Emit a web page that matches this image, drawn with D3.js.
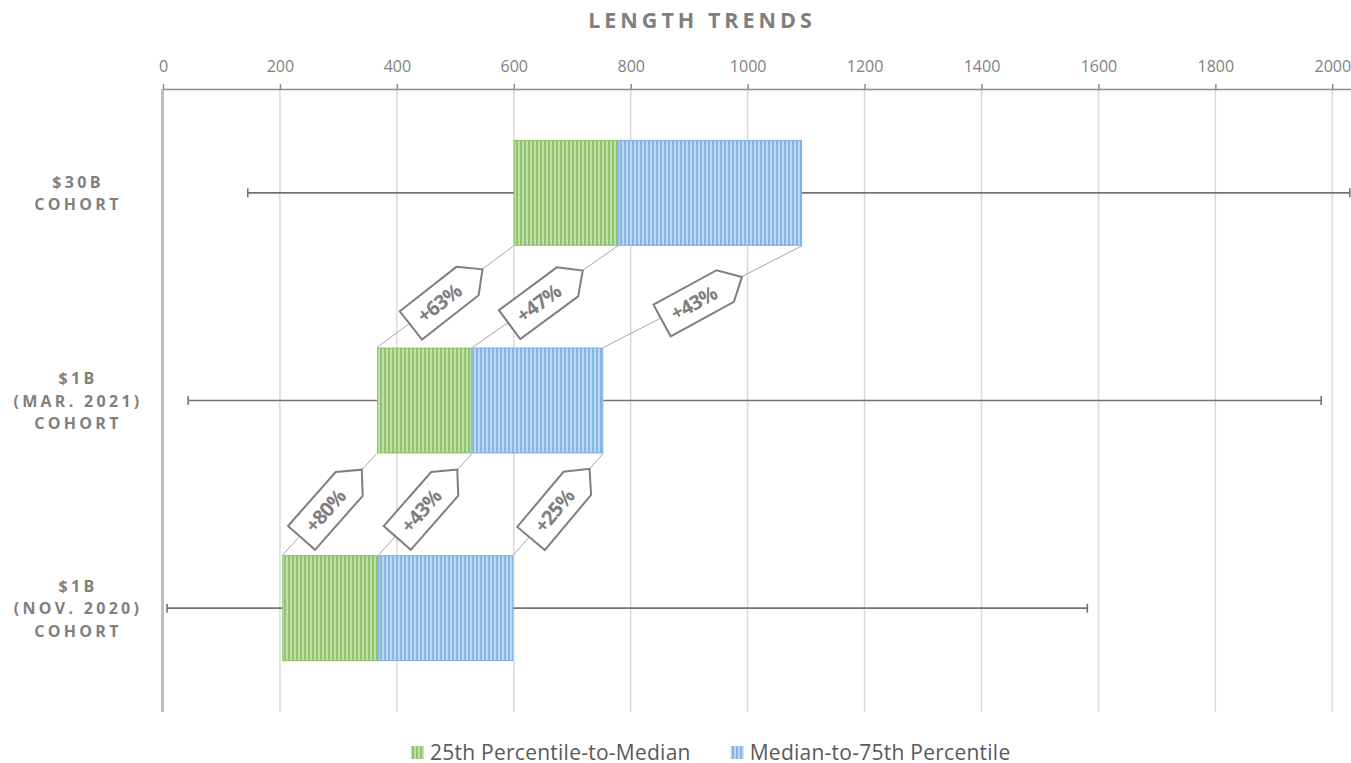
<!DOCTYPE html>
<meta charset="utf-8">
<title>length trends</title>
<style>
body {
  margin: 0px;
  background: #fff;
}
text {
  font-family: "Open Sans", sans-serif;
}
.title {
  font-size: 21.5px;
  font-weight: 700;
  letter-spacing: 4px;
  fill: #7f7f7f;
}
.rowlabel {
  font-size: 16px;
  font-weight: 700;
  letter-spacing: 3.3px;
  fill: #7f7f7f;
}
.axis text {
  font-size: 16px;
  fill: #7f7f7f;
}
.axis path, .axis line {
  stroke: #8c8c8c;
  stroke-width: 1.5;
}
.grid {
  stroke: #d9d9d9;
  stroke-width: 1.5;
}
.whisker {
  stroke: #737373;
  stroke-width: 1.6;
}
.connector {
  stroke: #a6a6a6;
  stroke-width: 1;
}
.tag path {
  fill: #fff;
  stroke: #7f7f7f;
  stroke-width: 2;
}
.tag text {
  font-size: 20px;
  font-weight: 700;
  fill: #7f7f7f;
  letter-spacing: -0.8px;
}
.legend text {
  font-size: 21px;
  letter-spacing: 0.25px;
  fill: #595959;
}
</style>

<script src="https://cdnjs.cloudflare.com/ajax/libs/d3/7.8.5/d3.min.js"></script>

<body>
<script>
var width = 1351, height = 763;

// rows, top to bottom
var cohorts = [["$30B", "COHORT"], ["$1B", "(MAR. 2021)", "COHORT"], ["$1B", "(NOV. 2020)", "COHORT"]];
var mins    = [145, 43, 7];
var q1s     = [600, 366, 204];
var medians = [778, 529, 368];
var q3s     = [1093, 753, 599];
var maxs    = [2030, 1981, 1581];
// growth labels between row i+1 (lower) and row i (upper): q1, median, q3
var growth  = [["+63%", "+47%", "+43%"], ["+80%", "+43%", "+25%"]];
var xTicks  = [0, 200, 400, 600, 800, 1000, 1200, 1400, 1600, 1800, 2000];
var seriesNames = ["25th Percentile-to-Median", "Median-to-75th Percentile"];

var rows = cohorts.map(function(c, i) {
  return {label: c, min: mins[i], q1: q1s[i], med: medians[i], q3: q3s[i], max: maxs[i]};
});

var plotTop = 89, plotBottom = 712, plotLeft = 163;

var x = d3.scaleLinear().domain([0, 2032]).range([plotLeft, width]);
var y = d3.scaleBand().domain(d3.range(rows.length)).range([plotTop, plotBottom])
    .paddingInner(0.49).paddingOuter(0.245);

var svg = d3.select("body").append("svg")
    .attr("width", width)
    .attr("height", height);

var defs = svg.append("defs");
function stripes(id, light, dark) {
  var p = defs.append("pattern").attr("id", id)
      .attr("patternUnits", "userSpaceOnUse")
      .attr("width", 4).attr("height", 4);
  p.append("rect").attr("width", 4).attr("height", 4).attr("fill", light);
  p.append("rect").attr("width", 2).attr("height", 4).attr("fill", dark);
}
stripes("green", "#c3dda9", "#92c46c");
stripes("blue", "#bdd7f0", "#84b5e3");
var fills = ["url(#green)", "url(#blue)"];
var borders = ["#8cbf64", "#7aaee0"];

svg.append("text").attr("class", "title")
    .attr("x", 702).attr("y", 28)
    .attr("text-anchor", "middle")
    .text("LENGTH TRENDS");

// grid
svg.append("g").selectAll("line")
    .data(xTicks.slice(1))
  .enter().append("line")
    .attr("class", "grid")
    .attr("x1", function(d) { return x(d); })
    .attr("x2", function(d) { return x(d); })
    .attr("y1", plotTop).attr("y2", plotBottom);

svg.append("line")
    .attr("x1", x(0) - 0.5).attr("x2", x(0) - 0.5)
    .attr("y1", plotTop).attr("y2", plotBottom)
    .attr("stroke", "#bfbfbf").attr("stroke-width", 3);

svg.append("g").attr("class", "axis")
    .attr("transform", "translate(0," + plotTop + ")")
    .call(d3.axisTop(x).tickValues(xTicks).tickSize(5).tickSizeOuter(0).tickPadding(12).tickFormat(d3.format("d")))
    .call(function(g) { g.selectAll("text").attr("font-family", null); g.attr("font-family", null); });

// row labels
var lineH = 22.5;
rows.forEach(function(r, i) {
  var cy = y(i) + y.bandwidth() / 2;
  var t = svg.append("text").attr("class", "rowlabel")
      .attr("text-anchor", "middle");
  r.label.forEach(function(s, j) {
    t.append("tspan")
        .attr("x", 78)
        .attr("y", cy + 6 + (j - (r.label.length - 1) / 2) * lineH)
        .text(s);
  });
});

// connectors between rows
var stats = ["q1", "med", "q3"];
var conn = [];
for (var i = 0; i < rows.length - 1; i++) {
  stats.forEach(function(s, k) {
    conn.push({
      x1: x(rows[i][s]), y1: y(i) + y.bandwidth(),
      x2: x(rows[i + 1][s]), y2: y(i + 1),
      label: growth[i][k]
    });
  });
}
svg.append("g").selectAll("line")
    .data(conn)
  .enter().append("line")
    .attr("class", "connector")
    .attr("x1", function(d) { return d.x1; })
    .attr("y1", function(d) { return d.y1; })
    .attr("x2", function(d) { return d.x2; })
    .attr("y2", function(d) { return d.y2; });

// whiskers
var wh = svg.append("g");
rows.forEach(function(r, i) {
  var cy = y(i) + y.bandwidth() / 2;
  [[r.min, r.q1], [r.q3, r.max]].forEach(function(seg) {
    wh.append("line").attr("class", "whisker")
        .attr("x1", x(seg[0])).attr("x2", x(seg[1]))
        .attr("y1", cy).attr("y2", cy);
  });
  [r.min, r.max].forEach(function(v) {
    wh.append("line").attr("class", "whisker")
        .attr("x1", x(v)).attr("x2", x(v))
        .attr("y1", cy - 4.5).attr("y2", cy + 4.5);
  });
});

// boxes
rows.forEach(function(r, i) {
  [[r.q1, r.med], [r.med, r.q3]].forEach(function(seg, k) {
    svg.append("rect")
        .attr("x", x(seg[0]) + 0.5)
        .attr("y", y(i) + 0.5)
        .attr("width", x(seg[1]) - x(seg[0]) - 1)
        .attr("height", y.bandwidth() - 1)
        .attr("fill", fills[k])
        .attr("stroke", borders[k])
        .attr("stroke-width", 1);
  });
});

// growth tags
var L = 72, H = 36, T = 19, along = 0.545;
var tagPath = "M" + (-L / 2) + "," + (-H / 2) + "L" + (L / 2) + "," + (-H / 2) +
    "L" + (L / 2 + T) + ",0L" + (L / 2) + "," + (H / 2) + "L" + (-L / 2) + "," + (H / 2) + "Z";
var tags = svg.append("g").selectAll("g")
    .data(conn)
  .enter().append("g")
    .attr("class", "tag")
    .attr("transform", function(d) {
      var cx = d.x1 + (d.x2 - d.x1) * along,
          cy = d.y1 + (d.y2 - d.y1) * along + 2;
      var a = Math.atan2(d.y1 - d.y2, d.x1 - d.x2) * 180 / Math.PI - 1.5;
      return "translate(" + cx + "," + cy + ") rotate(" + a + ")";
    });
tags.append("path").attr("d", tagPath);
tags.append("text")
    .attr("text-anchor", "middle")
    .attr("dy", "0.36em")
    .text(function(d) { return d.label; });

// legend
var legend = svg.append("g").attr("class", "legend");
var lx = 411;
seriesNames.forEach(function(name, k) {
  legend.append("rect")
      .attr("x", lx).attr("y", 746)
      .attr("width", 13).attr("height", 13)
      .attr("fill", fills[k]);
  var t = legend.append("text")
      .attr("x", lx + 19).attr("y", 760)
      .text(name);
  lx += 19 + t.node().getComputedTextLength() + 40;
});
</script>
